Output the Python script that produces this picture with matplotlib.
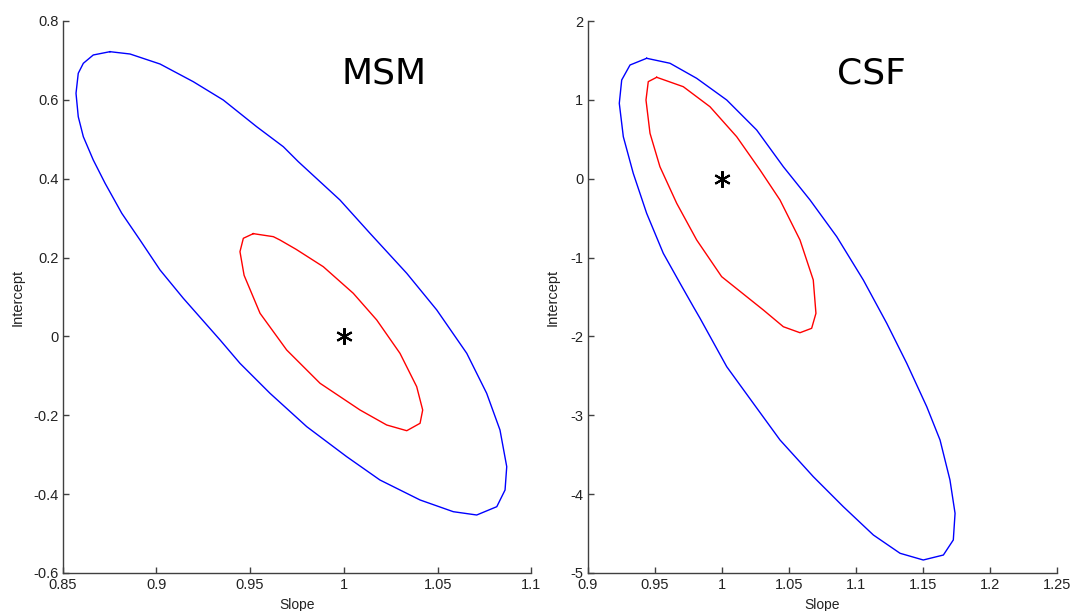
# Confidence regions for slope / intercept, MSM vs CSF
import matplotlib.pyplot as plt

# MSM panel - contour points
msm_outer_x = [0.8753, 0.8664, 0.8611, 0.8584, 0.8572, 0.8584, 0.8611, 0.8664, 0.8727, 0.8816, 0.8913, 0.9020,
               0.9144, 0.9340, 0.9446, 0.9606, 0.9802, 1.0015, 1.0192, 1.0406, 1.0583, 1.0708, 1.0815, 1.0859,
               1.0868, 1.0832, 1.0761, 1.0655, 1.0495, 1.0335, 1.0139, 0.9979, 0.9757, 0.9677, 0.9535, 0.9357,
               0.9197, 0.9020, 0.8860, 0.8753]
msm_outer_y = [0.7222, 0.7138, 0.6927, 0.6674, 0.6166, 0.5573, 0.5066, 0.4475, 0.3884, 0.3123, 0.2446, 0.1685,
               0.0967, -0.0090, -0.0682, -0.1442, -0.2289, -0.3050, -0.3641, -0.4148, -0.4445, -0.4529, -0.4318,
               -0.3895, -0.3303, -0.2373, -0.1442, -0.0429, 0.0671, 0.1601, 0.2616, 0.3460, 0.4432, 0.4812,
               0.5319, 0.5996, 0.6461, 0.6909, 0.7163, 0.7222]
msm_inner_x = [0.9517, 0.9464, 0.9446, 0.9468, 0.9553, 0.9695, 0.9873, 1.0086, 1.0228, 1.0335, 1.0406,
               1.0420, 1.0388, 1.0299, 1.0175, 1.0050, 0.9890, 0.9745, 0.9659, 0.9624, 0.9517]
msm_inner_y = [0.2607, 0.2489, 0.2150, 0.1550, 0.0587, -0.0344, -0.1189, -0.1866, -0.2246, -0.2391,
               -0.2203, -0.1866, -0.1274, -0.0429, 0.0417, 0.1094, 0.1769, 0.2210, 0.2446, 0.2530, 0.2607]

# CSF panel
csf_outer_x = [0.9441, 0.9317, 0.9255, 0.9237, 0.9267, 0.9341, 0.9441, 0.9565, 0.9690, 0.9789, 0.9839, 1.0038,
               1.0236, 1.0435, 1.0683, 1.0907, 1.1131, 1.1330, 1.1503, 1.1653, 1.1727, 1.1740, 1.1702, 1.1628,
               1.1529, 1.1380, 1.1231, 1.1056, 1.0858, 1.0659, 1.0460, 1.0261, 1.0038, 0.9814, 0.9615, 0.9441]
csf_outer_y = [1.527, 1.442, 1.252, 0.956, 0.533, 0.069, -0.439, -0.946, -1.326, -1.623, -1.770, -2.384,
               -2.848, -3.313, -3.778, -4.159, -4.518, -4.750, -4.835, -4.772, -4.581, -4.243, -3.820, -3.313,
               -2.891, -2.341, -1.834, -1.284, -0.735, -0.270, 0.152, 0.618, 0.998, 1.273, 1.464, 1.527]
csf_inner_x = [0.9516, 0.9453, 0.9436, 0.9466, 0.9540, 0.9665, 0.9814, 1.0000, 1.0311, 1.0460, 1.0584, 1.0671,
               1.0703, 1.0683, 1.0584, 1.0435, 1.0286, 1.0112, 0.9913, 0.9714, 0.9516]
csf_inner_y = [1.286, 1.231, 0.998, 0.576, 0.152, -0.312, -0.777, -1.242, -1.665, -1.877, -1.953, -1.897,
               -1.707, -1.284, -0.777, -0.270, 0.111, 0.533, 0.913, 1.167, 1.286]

true_slope = 1.0
true_intercept = 0.0

panels = [
    ('MSM', msm_outer_x, msm_outer_y, msm_inner_x, msm_inner_y,
     (0.85, 1.1), (-0.6, 0.8), [0.85, 0.9, 0.95, 1, 1.05, 1.1], [-0.6, -0.4, -0.2, 0, 0.2, 0.4, 0.6, 0.8],
     ['0.85', '0.9', '0.95', '1', '1.05', '1.1'], ['-0.6', '-0.4', '-0.2', '0', '0.2', '0.4', '0.6', '0.8']),
    ('CSF', csf_outer_x, csf_outer_y, csf_inner_x, csf_inner_y,
     (0.9, 1.25), (-5, 2), [0.9, 0.95, 1, 1.05, 1.1, 1.15, 1.2, 1.25], [-5, -4, -3, -2, -1, 0, 1, 2],
     ['0.9', '0.95', '1', '1.05', '1.1', '1.15', '1.2', '1.25'], ['-5', '-4', '-3', '-2', '-1', '0', '1', '2']),
]

W, H = 1071, 611
fig = plt.figure(figsize=(W / 100, H / 100), dpi=100)
# axes boxes in pixels: left, right, top, bottom
boxes = [(62.5, 531.5, 21, 573), (587.5, 1057, 21, 573)]
title_pos = [(384, 83), (871, 83)]
ylabel_x = [-0.080, -0.059]

for (name, ox, oy, ix, iy, xl, yl, xt, yt, xtl, ytl), (l, r, t, b), (tx, ty), ylx in zip(panels, boxes, title_pos, ylabel_x):
    ax = fig.add_axes([l / W, 1 - b / H, (r - l) / W, (b - t) / H])
    ax.plot(ox, oy, color='#0000ff', lw=1.0)
    ax.plot(ix, iy, color='#ff0000', lw=1.0)
    ax.plot(true_slope, true_intercept, marker=(6, 2, 0), color='black', markersize=12, mew=1.5)
    ax.set_xlim(*xl)
    ax.set_ylim(*yl)
    ax.set_xticks(xt)
    ax.set_xticklabels(xtl)
    ax.set_yticks(yt)
    ax.set_yticklabels(ytl)
    for s in ['top', 'right']:
        ax.spines[s].set_visible(False)
    for s in ['left', 'bottom']:
        ax.spines[s].set_color('#404040')
        ax.spines[s].set_linewidth(1.0)
    ax.tick_params(direction='in', length=4, width=1, color='#404040', labelcolor='#222222', labelsize=10.5)
    ax.tick_params(axis='x', pad=3.5)
    ax.tick_params(axis='y', pad=3)
    for lab in ax.get_xticklabels() + ax.get_yticklabels():
        lab.set_family('Liberation Sans')
    ax.set_xlabel('Slope', fontsize=10, family='Liberation Sans', color='#222222')
    ax.set_ylabel('Intercept', fontsize=10.5, family='Liberation Sans', color='#222222')
    ax.xaxis.set_label_coords(0.5, -0.045)
    ax.yaxis.set_label_coords(ylx, 0.5)
    fig.text(tx / W, 1 - ty / H, name, fontsize=26, ha='center', va='baseline', color='black')

fig.savefig('out.png', dpi=100)
